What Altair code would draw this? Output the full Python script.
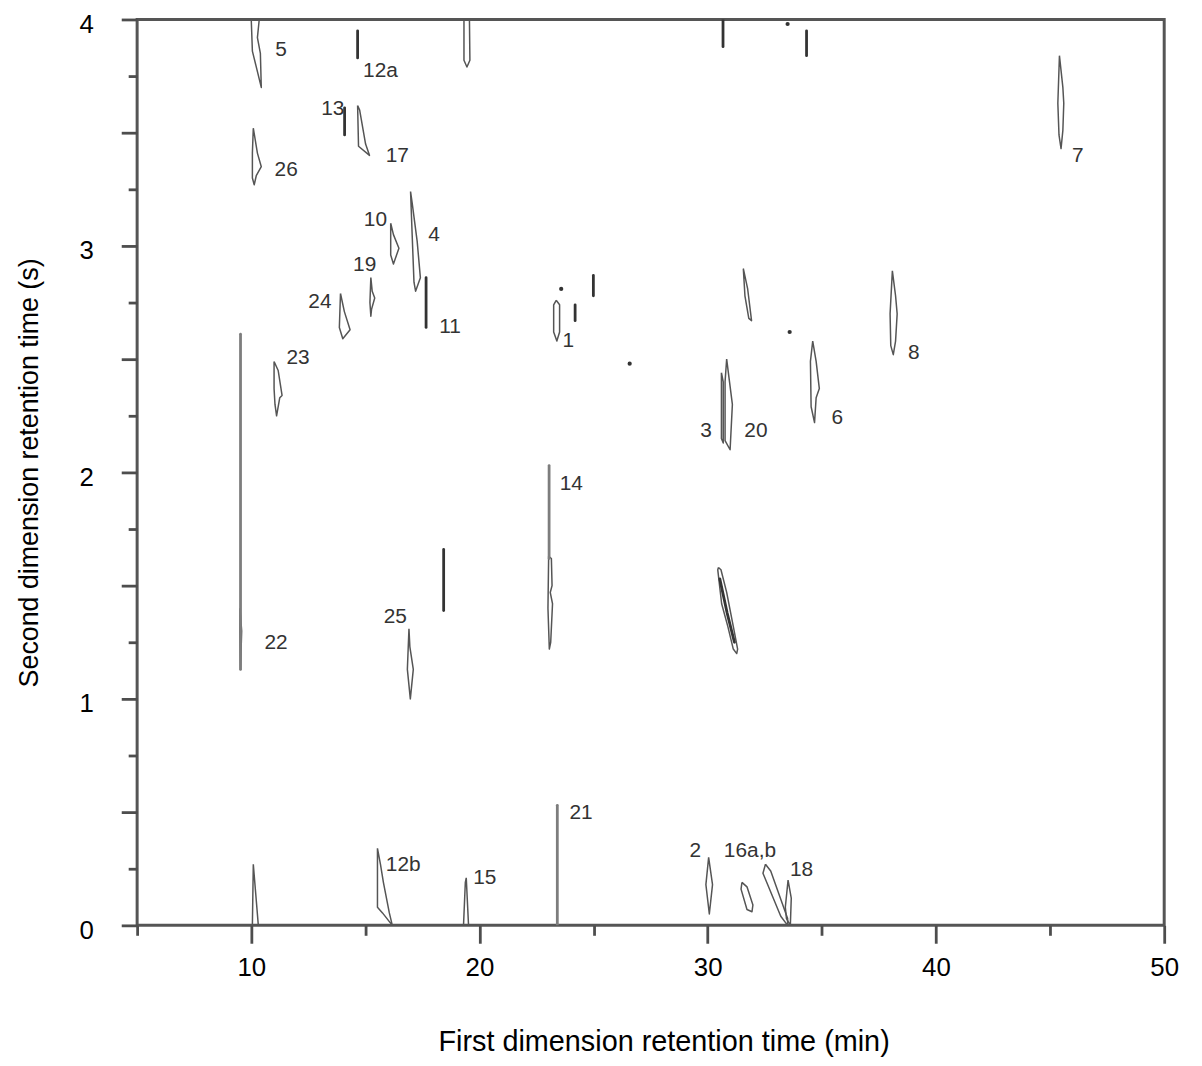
import altair as alt
import pandas as pd

# ---------------- data ----------------
# closed contour outlines (first dimension min, second dimension s)
s5 = [(10.00, 4.00), (10.05, 3.86), (10.44, 3.70), (10.40, 3.85), (10.27, 3.92), (10.35, 4.00)]
s_top19 = [(19.32, 4.00), (19.32, 3.82), (19.45, 3.79), (19.58, 3.82), (19.56, 4.00)]
s26 = [(10.09, 3.52), (10.27, 3.41), (10.44, 3.35), (10.22, 3.31), (10.13, 3.27), (10.05, 3.30), (10.05, 3.41)]
s17 = [(14.66, 3.62), (14.70, 3.44), (15.18, 3.40), (15.01, 3.45), (14.75, 3.60)]
s10 = [(16.11, 3.10), (16.23, 3.05), (16.47, 2.99), (16.23, 2.92), (16.11, 2.96)]
s4 = [(16.98, 3.24), (17.05, 3.05), (17.13, 2.84), (17.20, 2.80), (17.41, 2.86), (17.27, 3.02), (17.05, 3.19)]
s19 = [(15.24, 2.86), (15.30, 2.80), (15.41, 2.77), (15.27, 2.72), (15.24, 2.69), (15.20, 2.75)]
s24 = [(13.91, 2.79), (14.08, 2.71), (14.33, 2.63), (14.01, 2.59), (13.86, 2.64)]
s23 = [(11.00, 2.49), (11.18, 2.45), (11.35, 2.34), (11.25, 2.33), (11.11, 2.25), (11.04, 2.30), (11.00, 2.37)]
s22_loop = [(9.51, 1.40), (9.58, 1.30), (9.53, 1.13), (9.50, 1.30)]
s25 = [(16.91, 1.31), (16.95, 1.23), (17.10, 1.13), (16.97, 1.00), (16.84, 1.13)]
s12b = [(15.53, 0.34), (15.53, 0.08), (15.75, 0.055), (16.18, 0.00), (16.05, 0.055), (15.79, 0.19), (15.66, 0.27)]
s_b10 = [(10.09, 0.27), (10.31, 0.00), (10.05, 0.00)]
s15 = [(19.42, 0.21), (19.52, 0.00), (19.30, 0.00), (19.38, 0.19)]
s_3175 = [(31.56, 2.90), (31.75, 2.81), (31.92, 2.67), (31.80, 2.68), (31.63, 2.78)]
s1 = [(23.36, 2.76), (23.51, 2.74), (23.51, 2.62), (23.39, 2.58), (23.25, 2.62), (23.25, 2.74)]
s20 = [(30.83, 2.50), (30.93, 2.42), (31.08, 2.30), (30.98, 2.10), (30.76, 2.14), (30.76, 2.40)]
s3 = [(30.60, 2.44), (30.60, 2.15), (30.68, 2.13), (30.68, 2.40)]
s6 = [(34.60, 2.58), (34.75, 2.49), (34.89, 2.37), (34.75, 2.33), (34.68, 2.22), (34.53, 2.29), (34.50, 2.49)]
s14_body = [(23.03, 1.63), (23.15, 1.62), (23.18, 1.50), (23.10, 1.47), (23.20, 1.42), (23.12, 1.25),
            (23.06, 1.22), (23.00, 1.40)]
s_diag = [(30.47, 1.58), (30.58, 1.57), (30.83, 1.47), (31.12, 1.32), (31.31, 1.22), (31.27, 1.20),
          (31.12, 1.22), (30.88, 1.32), (30.61, 1.42), (30.44, 1.57)]
s7 = [(45.41, 3.84), (45.56, 3.70), (45.60, 3.63), (45.56, 3.51), (45.48, 3.43), (45.39, 3.49), (45.34, 3.63)]
s8 = [(38.09, 2.89), (38.23, 2.78), (38.30, 2.70), (38.23, 2.58), (38.13, 2.52), (38.02, 2.56), (37.99, 2.70)]
s2 = [(30.04, 0.30), (30.21, 0.18), (30.07, 0.05), (29.92, 0.18)]
s16a = [(31.50, 0.19), (31.72, 0.17), (31.98, 0.09), (31.94, 0.06), (31.72, 0.07), (31.46, 0.16)]
s16b = [(32.53, 0.27), (32.76, 0.24), (33.50, 0.03), (33.50, 0.00), (33.20, 0.04), (32.42, 0.23)]
s18 = [(33.52, 0.20), (33.66, 0.12), (33.62, 0.00), (33.45, 0.03), (33.40, 0.08)]

# short dark streaks (open lines)
k12a = [(14.66, 3.95), (14.66, 3.83)]
k13 = [(14.09, 3.61), (14.09, 3.49)]
k11 = [(17.66, 2.86), (17.66, 2.64)]
k_top31 = [(30.67, 4.00), (30.67, 3.88)]
k_top34 = [(34.33, 3.95), (34.33, 3.84)]
k_185 = [(18.43, 1.66), (18.43, 1.39)]
k_242 = [(24.19, 2.74), (24.19, 2.67)]
k_250 = [(24.99, 2.87), (24.99, 2.78)]
k_diag_inner = [(30.53, 1.53), (30.85, 1.38), (31.17, 1.25)]

# long grey streaks
g22 = [(9.53, 2.61), (9.53, 1.13)]
g14 = [(23.05, 2.03), (23.05, 1.62)]
g21 = [(23.41, 0.53), (23.41, 0.00)]

# isolated dots
dot_x = [33.50, 23.58, 26.58, 33.59]
dot_y = [3.98, 2.81, 2.48, 2.62]

# peak labels
label_text = ["5", "12a", "13", "26", "17", "10", "4", "19", "24", "11", "23", "1", "8", "7",
              "3", "20", "6", "14", "22", "25", "21", "12b", "15", "2", "16a,b", "18"]
label_x = [11.31, 15.66, 13.57, 11.53, 16.40, 15.44, 18.01, 14.97, 13.01, 18.71, 12.05, 23.89, 39.03, 46.21,
           29.93, 32.11, 35.68, 24.02, 11.09, 16.31, 24.45, 16.66, 20.23, 29.46, 31.85, 34.11]
label_y = [3.864, 3.772, 3.604, 3.337, 3.398, 3.113, 3.047, 2.915, 2.753, 2.643, 2.503, 2.578, 2.525, 3.398,
           2.183, 2.183, 2.240, 1.950, 1.248, 1.362, 0.494, 0.266, 0.208, 0.327, 0.327, 0.244]

x_ticks = [5, 10, 15, 20, 25, 30, 35, 40, 45, 50]
y_ticks = [0, 0.25, 0.5, 0.75, 1, 1.25, 1.5, 1.75, 2, 2.25, 2.5, 2.75, 3, 3.25, 3.5, 3.75, 4]

# ---------------- build tables ----------------
contours = {"5": s5, "top19": s_top19, "26": s26, "17": s17, "10": s10, "4": s4, "19": s19, "24": s24,
            "23": s23, "22loop": s22_loop, "25": s25, "12b": s12b, "b10": s_b10, "15": s15,
            "3175": s_3175, "1": s1, "20": s20, "3": s3, "6": s6, "14body": s14_body, "diag": s_diag,
            "7": s7, "8": s8, "2": s2, "16a": s16a, "16b": s16b, "18": s18}
streaks = {"12a": k12a, "13": k13, "11": k11, "top31": k_top31, "top34": k_top34, "185": k_185,
           "242": k_242, "250": k_250, "diagin": k_diag_inner}
greys = {"22": g22, "14": g14, "21": g21}

rows = []
for name, pts in contours.items():
    for i, (x, y) in enumerate(list(pts) + [pts[0]]):
        rows.append({"spot": name, "kind": "c", "order": i, "x": x, "y": y})
for name, pts in streaks.items():
    for i, (x, y) in enumerate(pts):
        rows.append({"spot": name, "kind": "k", "order": i, "x": x, "y": y})
for name, pts in greys.items():
    for i, (x, y) in enumerate(pts):
        rows.append({"spot": name, "kind": "g", "order": i, "x": x, "y": y})
lines_df = pd.DataFrame(rows)
dots_df = pd.DataFrame({"x": dot_x, "y": dot_y})
labels_df = pd.DataFrame({"x": label_x, "y": label_y, "t": label_text})

FONT = "Liberation Sans"
xs = alt.Scale(domain=[5, 50], nice=False, zero=False)
ys = alt.Scale(domain=[0, 4], nice=False, zero=False)

x_axis = alt.Axis(
    values=x_ticks, labelExpr="datum.value % 10 == 0 ? format(datum.value, 'd') : ''",
    tickSize={"condition": {"test": "datum.value % 10 == 0", "value": 18}, "value": 10},
    tickColor="#4d4d4d", tickWidth=2.8, domain=False, grid=False,
    labelFontSize=26, labelColor="#000", labelPadding=11, labelFlush=False, labelOverlap=False,
    labelFont=FONT, titleFont=FONT, titleFontSize=29, titleFontWeight="normal", titleColor="#000",
    titleX=530, titleY=117, titleAlign="center", titleBaseline="middle",
)
y_axis = alt.Axis(
    values=y_ticks, labelExpr="datum.value % 1 == 0 ? format(datum.value, 'd') : ''",
    tickSize={"condition": {"test": "datum.value % 0.5 == 0", "value": 16}, "value": 9},
    tickColor="#4d4d4d", tickWidth=2.8, domain=False, grid=False,
    labelFontSize=26, labelColor="#000", labelPadding=28, labelOffset=5, labelFlush=False,
    labelOverlap=False,
    labelFont=FONT, titleFont=FONT, titleFontSize=27, titleFontWeight="normal", titleColor="#000",
    titleX=-108, titleY=456, titleAngle=-90, titleAlign="center", titleBaseline="middle",
)
X = alt.X("x:Q", scale=xs, axis=x_axis, title="First dimension retention time (min)")
Y = alt.Y("y:Q", scale=ys, axis=y_axis, title="Second dimension retention time (s)")

base = alt.Chart(lines_df)
contour_layer = base.transform_filter(alt.datum.kind == "c").mark_line(
    strokeWidth=1.5, color="#555", strokeJoin="round", clip=True
).encode(x=X, y=Y, detail="spot:N", order="order:Q")
streak_layer = base.transform_filter(alt.datum.kind == "k").mark_line(
    strokeWidth=2.8, color="#333", strokeCap="round", clip=True
).encode(x=X, y=Y, detail="spot:N", order="order:Q")
grey_layer = base.transform_filter(alt.datum.kind == "g").mark_line(
    strokeWidth=2.8, color="#7d7d7d", strokeCap="round", clip=True
).encode(x=X, y=Y, detail="spot:N", order="order:Q")
dot_layer = alt.Chart(dots_df).mark_point(filled=True, size=18, color="#333", opacity=1).encode(x=X, y=Y)
label_layer = alt.Chart(labels_df).mark_text(
    fontSize=21, color="#333", font=FONT, align="center", baseline="middle"
).encode(x=X, y=Y, text="t:N")

chart = alt.layer(contour_layer, grey_layer, streak_layer, dot_layer, label_layer).properties(
    width=1034, height=912,
    autosize=alt.AutoSizeParams(type="none"),
    padding={"left": 130, "top": 8, "right": 30, "bottom": 130},
    background="white",
).configure_view(stroke="#555", strokeWidth=3)

chart.save("out.html", embed_options={"renderer": "svg", "actions": False})
